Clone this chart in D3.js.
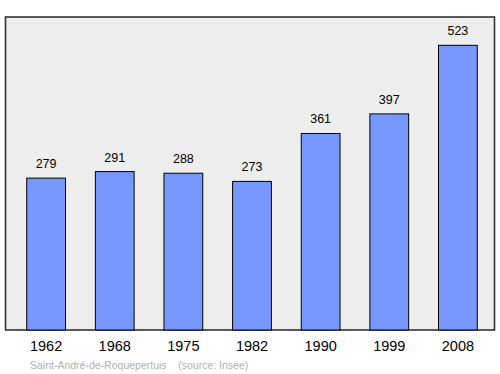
<!DOCTYPE html>
<html><head><meta charset="utf-8">
<script src="https://cdn.jsdelivr.net/npm/d3@7"></script>
<style>body{margin:0;background:#fff}svg{display:block}</style>
</head><body>
<svg id="c" width="500" height="374"></svg>
<script>
const years = ["1962","1968","1975","1982","1990","1999","2008"];
const population = [279,291,288,273,361,397,523];
const sourceText = "Saint-André-de-Roquepertuis    (source: Insee)";

const svg = d3.select("#c");
const panel = {x0:5.5, x1:494.5, y0:17, y1:330};
svg.append("rect").attr("x",panel.x0).attr("y",panel.y0)
  .attr("width",panel.x1-panel.x0).attr("height",panel.y1-panel.y0)
  .attr("fill","#eeeeee").attr("stroke","#333").attr("stroke-width",1.6);

const x = d3.scaleBand().domain(years).range([13,491]).paddingInner(0.435).paddingOuter(0.2);
const y = d3.scaleLinear().domain([0,575]).range([330,17]);

svg.selectAll("rect.bar").data(population).join("rect").attr("class","bar")
  .attr("x",(d,i)=>x(years[i])).attr("y",d=>y(d))
  .attr("width",x.bandwidth()).attr("height",d=>y(0)-y(d))
  .attr("fill","#7799ff").attr("stroke","#000").attr("stroke-width",1);

svg.selectAll("text.val").data(population).join("text").attr("class","val")
  .attr("x",(d,i)=>x(years[i])+x.bandwidth()/2).attr("y",d=>y(d)-10)
  .attr("text-anchor","middle").attr("font-family","Liberation Sans, Arial, sans-serif")
  .attr("font-size",12.5).attr("fill","#000").text(d=>d);

const axis = d3.axisBottom(x).tickSize(0).tickPadding(11);
const g = svg.append("g").attr("transform","translate(0,330)").call(axis);
g.select(".domain").remove();
g.selectAll("text").attr("font-family","Liberation Sans, Arial, sans-serif").attr("font-size",14.5).attr("fill","#000");

svg.append("text").attr("x",30).attr("y",369).attr("xml:space","preserve").style("white-space","pre")
  .attr("font-family","Liberation Sans, Arial, sans-serif").attr("font-size",10.5)
  .attr("fill","#b0b0b0").text(sourceText);
</script>
</body></html>
